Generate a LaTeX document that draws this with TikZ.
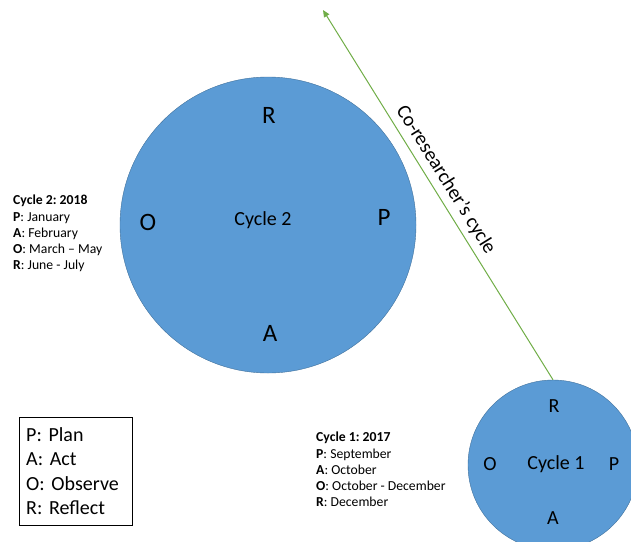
\documentclass[tikz,border=0pt]{standalone}
\usepackage{fontspec}
\setmainfont{Carlito}
\usetikzlibrary{positioning,arrows.meta}
\definecolor{cyclefill}{HTML}{5B9BD5}
\definecolor{cycleline}{HTML}{41719C}
\definecolor{coline}{HTML}{70AD47}

\begin{document}
\frenchspacing
\begin{tikzpicture}[x=1pt,y=-1pt,>={Triangle[length=7pt,width=6pt]},
    cycle/.style={circle,draw=cycleline,fill=cyclefill,inner sep=0pt},
    label/.style={font=\fontsize{20}{24}\selectfont},
    letter/.style={inner sep=0pt,font=\fontsize{25}{30}\selectfont},
    smallletter/.style={inner sep=0pt,font=\fontsize{20}{24}\selectfont},
    months/.style={align=left,anchor=north west,inner sep=0pt,font=\fontsize{13.7}{16.2}\selectfont}]
    \useasboundingbox (0,0) rectangle (631,541);
    \node[cycle,minimum size=296pt] (c2) at (268,225) {};
    \node[label] (t2) at (263,220) {Cycle 2};
    \node[letter] (r2) at (269,115) {R};
    \node[letter] (p2) at (384,217) {P};
    \node[letter] (a2) at (270,333) {A};
    \node[letter] (o2) at (148,222) {O};
    \node[cycle,minimum size=170pt] (c1) at (553,465) {};
    \node[label] (t1) at (556,464) {Cycle 1};
    \node[smallletter] (r1) at (554,406) {R};
    \node[smallletter] (p1) at (614,464) {P};
    \node[smallletter] (a1) at (553,518) {A};
    \node[smallletter] (o1) at (490,464) {O};
    \coordinate (tip) at (323,10);
    \draw[->,coline,line width=1pt] (c1.north) -- node[label,sloped,above=2pt,pos=0.52,text=black] {Co-researcher’s cycle} (tip);
    \node[months] (m2) at (13,195) {\textbf{Cycle 2: 2018}\\\textbf{P}: January\\\textbf{A}: February\\\textbf{O}: March – May\\\textbf{R}: June - July};
    \node[months] (m1) at (316,432) {\textbf{Cycle 1: 2017}\\\textbf{P}: September\\\textbf{A}: October\\\textbf{O}: October - December\\\textbf{R}: December};
    \node[draw,align=left,anchor=north west,inner xsep=7pt,inner ysep=0pt,text width=99pt,minimum height=108pt,font=\fontsize{20}{24.5}\selectfont\frenchspacing] (key) at (19,417) {P: Plan\\A: Act\\O: Observe\\R: Reflect};
\end{tikzpicture}
\end{document}
